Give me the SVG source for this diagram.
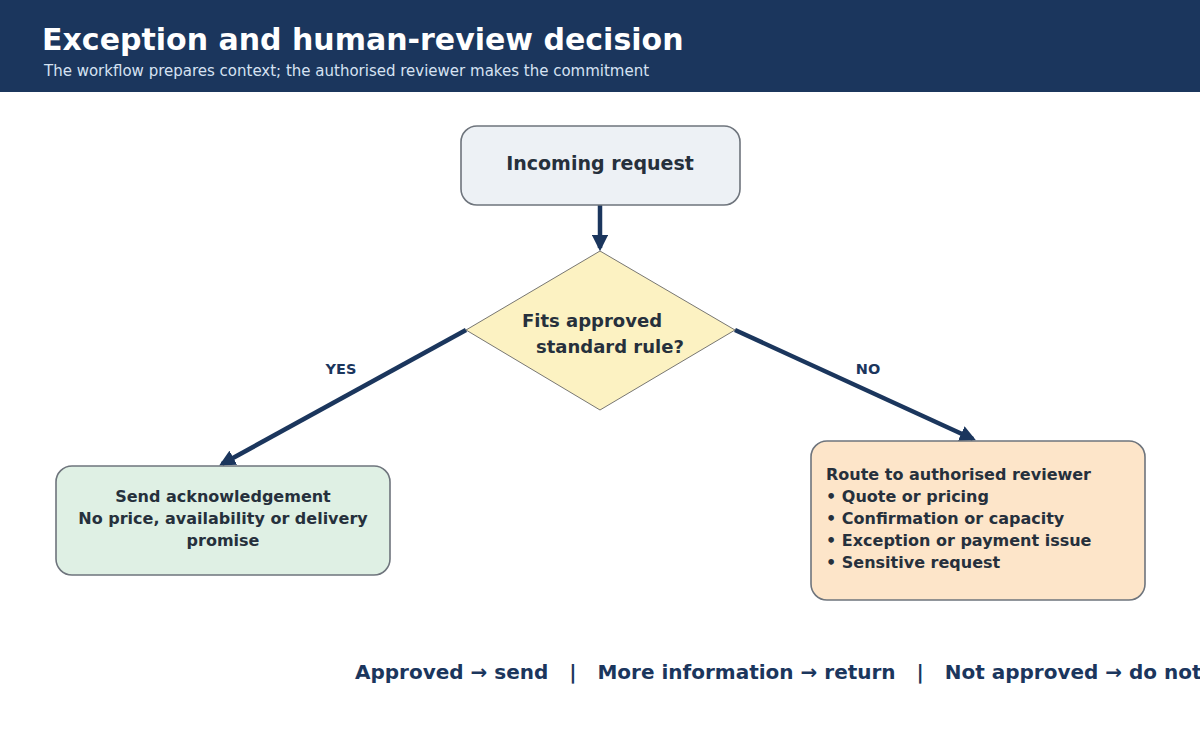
<svg xmlns="http://www.w3.org/2000/svg" width="1200" height="750" viewBox="0 0 1200 750">
<style>
.t{font-family:"DejaVu Sans",sans-serif;font-weight:bold;}
.box{stroke:#6e747c;stroke-width:1.6;}
.node{fill:#26303c;font-size:16px;}
.conn{stroke:#1b365d;stroke-width:4.5;fill:none;}
.lbl{fill:#1b365d;font-size:14.5px;}
</style>
<defs>
<marker id="ah" viewBox="0 0 10 10" refX="8" refY="5" markerWidth="3.6" markerHeight="3.6" orient="auto" markerUnits="strokeWidth">
<path d="M0,0 L10,5 L0,10 z" fill="#1b365d"/>
</marker>
</defs>
<rect width="1200" height="750" fill="#ffffff"/>
<g id="header">
<rect x="0" y="0" width="1200" height="92" fill="#1b365d"/>
<text class="t" x="42" y="50" font-size="30" fill="#ffffff">Exception and human-review decision</text>
<text x="44" y="76" font-family="DejaVu Sans,sans-serif" font-size="15" fill="#d6e2f2">The workflow prepares context; the authorised reviewer makes the commitment</text>
</g>
<g id="connectors">
<line class="conn" x1="600" y1="205" x2="600" y2="248" marker-end="url(#ah)"/>
<line class="conn" x1="466" y1="330" x2="222" y2="464" marker-end="url(#ah)"/>
<line class="conn" x1="735" y1="330" x2="973" y2="439" marker-end="url(#ah)"/>
<text class="t lbl" x="341" y="374" text-anchor="middle">YES</text>
<text class="t lbl" x="868" y="374" text-anchor="middle">NO</text>
</g>
<g id="incoming">
<rect class="box" x="461" y="126" width="279" height="79" rx="16" fill="#edf1f5"/>
<text class="t" x="600" y="170" font-size="19" fill="#26303c" text-anchor="middle">Incoming request</text>
</g>
<g id="decision">
<polygon points="600,251 735,330 600,410 466,330" fill="#fcf2c2" stroke="#555" stroke-width="0.8"/>
<text class="t" x="522" y="327" font-size="18" fill="#26303c">Fits approved</text>
<text class="t" x="536" y="353" font-size="18" fill="#26303c">standard rule?</text>
</g>
<g id="acknowledge">
<rect class="box" x="56" y="466" width="334" height="109" rx="16" fill="#dff0e4"/>
<text class="t node" x="223" y="502" text-anchor="middle">Send acknowledgement</text>
<text class="t node" x="223" y="524" text-anchor="middle">No price, availability or delivery</text>
<text class="t node" x="223" y="546" text-anchor="middle">promise</text>
</g>
<g id="reviewer">
<rect class="box" x="811" y="441" width="334" height="159" rx="16" fill="#fde5c9"/>
<text class="t node" x="826" y="480">Route to authorised reviewer</text>
<text class="t node" x="826" y="502">• Quote or pricing</text>
<text class="t node" x="826" y="524">• Confirmation or capacity</text>
<text class="t node" x="826" y="546">• Exception or payment issue</text>
<text class="t node" x="826" y="568">• Sensitive request</text>
</g>
<g id="footer">
<text class="t" x="355" y="679" font-size="20" fill="#1b365d" xml:space="preserve">Approved → send   |   More information → return   |   Not approved → do not</text>
</g>
</svg>
